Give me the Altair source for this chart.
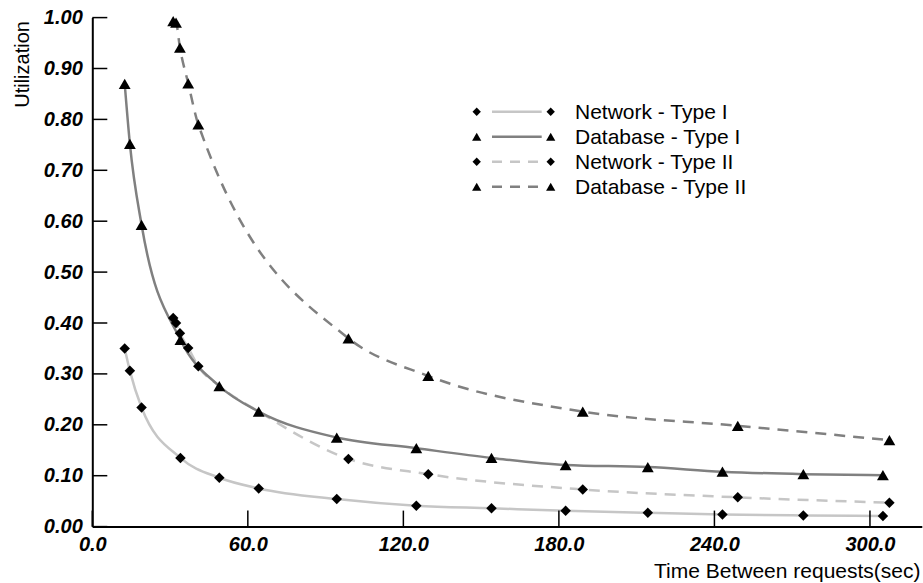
import altair as alt
import pandas as pd

# ---- data ----
x_type1 = [12.5, 14.5, 19.0, 34.0, 49.0, 64.2, 94.3, 125.0, 154.0, 182.6, 214.3, 243.1, 274.3, 305.0]
network_type1 = [0.350, 0.306, 0.234, 0.135, 0.096, 0.075, 0.054, 0.041, 0.036, 0.031, 0.027, 0.024, 0.022, 0.021]
database_type1 = [0.870, 0.752, 0.593, 0.367, 0.276, 0.226, 0.175, 0.154, 0.135, 0.121, 0.117, 0.108, 0.103, 0.101]

x_network_type2 = [31.2, 32.3, 33.8, 37.0, 40.9, 49.0, 64.2, 98.8, 129.6, 189.2, 249.0, 307.5]
network_type2 = [0.410, 0.400, 0.380, 0.351, 0.315, 0.276, 0.226, 0.133, 0.103, 0.073, 0.0575, 0.047]
# points of Network - Type II lying under Database - Type I triangles (marker hidden)
network_type2_hidden_x = [49.0, 64.2]

x_database_type2 = [31.2, 32.3, 33.8, 37.0, 40.9, 98.8, 129.6, 189.2, 249.0, 307.5]
database_type2 = [0.993, 0.990, 0.941, 0.871, 0.790, 0.370, 0.296, 0.226, 0.198, 0.170]

series_names = ["Network - Type I", "Database - Type I", "Network - Type II", "Database - Type II"]
x_ticks = [0, 60, 120, 180, 240, 300]
y_ticks = [0.0, 0.1, 0.2, 0.3, 0.4, 0.5, 0.6, 0.7, 0.8, 0.9, 1.0]

LIGHT = "#c6c6c6"
DARK = "#808080"
FONT = "Liberation Sans"

W, H = 829.5, 509

x_scale = alt.Scale(domain=[0, 320], nice=False, zero=False)
y_scale = alt.Scale(domain=[0, 1], nice=False, zero=False)

axis_x = alt.Axis(
    title="Time Between requests(sec)", values=x_ticks, format=".1f",
    labelFont=FONT, labelFontSize=20, labelFontWeight="bold", labelFontStyle="italic",
    labelColor="black", labelPadding=8, labelFlush=False, labelOverlap=False,
    ticks=False, tickSize=0, grid=False, domainColor="black", domainWidth=2,
    titleFont=FONT, titleFontSize=21, titleFontWeight="normal", titleColor="black",
    titleAnchor="end", titleAlign="right", titleBaseline="alphabetic",
    titleX=827.7, titleY=50.5,
)
axis_y = alt.Axis(
    title="Utilization", values=y_ticks, format=".2f",
    labelFont=FONT, labelFontSize=20, labelFontWeight="bold", labelFontStyle="italic",
    labelColor="black", labelPadding=10, labelFlush=False, labelOverlap=False,
    ticks=False, tickSize=0, grid=False, domainColor="black", domainWidth=2,
    titleFont=FONT, titleFontSize=20, titleFontWeight="normal", titleColor="black",
    titleAngle=270, titleAlign="right", titleBaseline="alphabetic",
    titleX=-64.3, titleY=3,
)


def X(field):
    return alt.X(field, type="quantitative", scale=x_scale, axis=axis_x)


def Y(field):
    return alt.Y(field, type="quantitative", scale=y_scale, axis=axis_y)


def series_layers(xs, ys, color, dash, shape, size, hidden=()):
    df = pd.DataFrame({"x": xs, "y": ys})
    line_kw = dict(color=color, strokeWidth=2.5, interpolate="monotone")
    if dash:
        line_kw["strokeDash"] = dash
    line = alt.Chart(df).mark_line(**line_kw).encode(x=X("x"), y=Y("y"))
    pdf = df[~df["x"].isin(list(hidden))]
    pts = alt.Chart(pdf).mark_point(shape=shape, filled=True, color="black", opacity=1, size=size).encode(
        x=X("x"), y=Y("y"))
    return line, pts


l1, p1 = series_layers(x_type1, network_type1, LIGHT, None, "diamond", 110)
l2, p2 = series_layers(x_type1, database_type1, DARK, None, "triangle-up", 140)
l3, p3 = series_layers(x_network_type2, network_type2, LIGHT, [11, 8], "diamond", 110,
                       hidden=network_type2_hidden_x)
l4, p4 = series_layers(x_database_type2, database_type2, DARK, [11, 8], "triangle-up", 140)

# inward tick marks
ytick_df = pd.DataFrame({"v": y_ticks})
xtick_df = pd.DataFrame({"v": x_ticks})
ytick_layer = alt.Chart(ytick_df).mark_rule(color="black", strokeWidth=1.5).encode(
    y=Y("v"), x=alt.value(0), x2=alt.value(15))
xtick_layer = alt.Chart(xtick_df).mark_rule(color="black", strokeWidth=1.5).encode(
    x=X("v"), y=alt.value(H), y2=alt.value(H - 16))

# manual legend (pixel positions inside the plot area)
legend_rows_y = [94.1, 119.1, 144.1, 169.1]
legend_colors = [LIGHT, DARK, LIGHT, DARK]
legend_dashes = [None, None, [10, 8], [10, 8]]
legend_shapes = ["diamond", "triangle-up", "diamond", "triangle-up"]
legend_sizes = [70, 85, 70, 85]
legend_layers = []
one = pd.DataFrame({"a": [0]})
for name, yy, col, dsh, shp, sz in zip(series_names, legend_rows_y, legend_colors,
                                        legend_dashes, legend_shapes, legend_sizes):
    rule_kw = dict(color=col, strokeWidth=2.5)
    if dsh:
        rule_kw["strokeDash"] = dsh
    legend_layers.append(alt.Chart(one).mark_rule(**rule_kw).encode(
        x=alt.value(399.7), x2=alt.value(449.4), y=alt.value(yy)))
    for xx in (384.4, 458.4):
        legend_layers.append(alt.Chart(one).mark_point(
            shape=shp, filled=True, color="black", opacity=1, size=sz).encode(
            x=alt.value(xx), y=alt.value(yy)))
    legend_layers.append(alt.Chart(one).mark_text(
        text=name, font=FONT, fontSize=21, align="left", baseline="middle", color="black").encode(
        x=alt.value(482.7), y=alt.value(yy + 1)))

chart = alt.layer(
    l1, l3, l2, l4, ytick_layer, xtick_layer, p1, p3, p2, p4, *legend_layers
).properties(
    width=W, height=H,
    autosize=alt.AutoSizeParams(type="none"),
    padding={"left": 92.3, "top": 17.6, "right": 1.2, "bottom": 56.4},
    background="white",
).configure_view(stroke=None)

chart.save("out.html", embed_options={"renderer": "svg", "actions": False})
